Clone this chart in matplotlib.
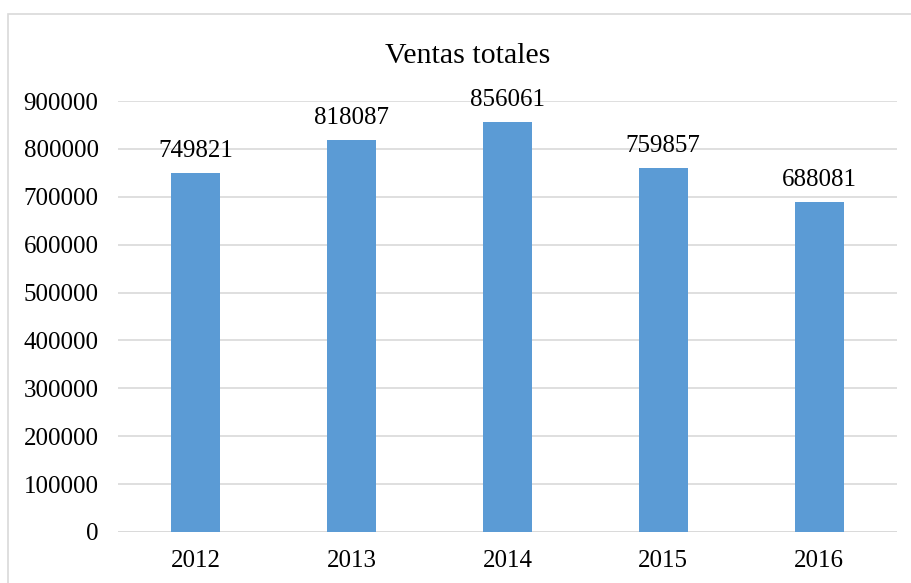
import matplotlib
matplotlib.use("Agg")
import matplotlib.pyplot as plt
from matplotlib.patches import Rectangle

# ── data ─────────────────────────────────────────────────────────────────────
years = ["2012", "2013", "2014", "2015", "2016"]
ventas = [749821, 818087, 856061, 759857, 688081]
yticks = list(range(0, 900001, 100000))

W, H, DPI = 911, 583, 100
fig = plt.figure(figsize=(W / DPI, H / DPI), dpi=DPI)
plt.rcParams["font.family"] = ["Liberation Serif", "DejaVu Serif"]

# outer chart border (partly cut off at right/bottom like the original)
fig.patches.append(Rectangle((8 / W, -0.05), 1.0, 1 - 14 / H + 0.05,
                             transform=fig.transFigure, fill=False,
                             edgecolor="#D9D9D9", linewidth=1.2))

ax = fig.add_axes([118 / W, 1 - 532 / H, (897 - 118) / W, (532 - 101) / H])
x = range(len(years))
bars = ax.bar(x, ventas, width=0.315, color="#5B9BD5", zorder=3)

# value labels sit ~16 px above each bar
for xi, v in zip(x, ventas):
    ax.text(xi, v + 33500, str(v), ha="center", va="baseline", fontsize=18)

ax.set_xlim(-0.5, len(years) - 0.5)
ax.set_ylim(0, 900000)
ax.set_yticks(yticks)
ax.set_yticklabels([str(t) for t in yticks])
ax.set_xticks(list(x))
ax.set_xticklabels(years)
ax.tick_params(axis="both", length=0, labelsize=18, colors="black")
ax.tick_params(axis="y", pad=14)
ax.tick_params(axis="x", pad=13)
ax.yaxis.grid(True, color="#D9D9D9", linewidth=1.2, zorder=0)
for s in ax.spines.values():
    s.set_visible(False)
ax.axhline(0, color="#D9D9D9", linewidth=1.2, zorder=2)

fig.text(468 / W, 1 - 56 / H, "Ventas totales",
         ha="center", va="center", fontsize=21.5)

fig.savefig("out.png", dpi=DPI)
